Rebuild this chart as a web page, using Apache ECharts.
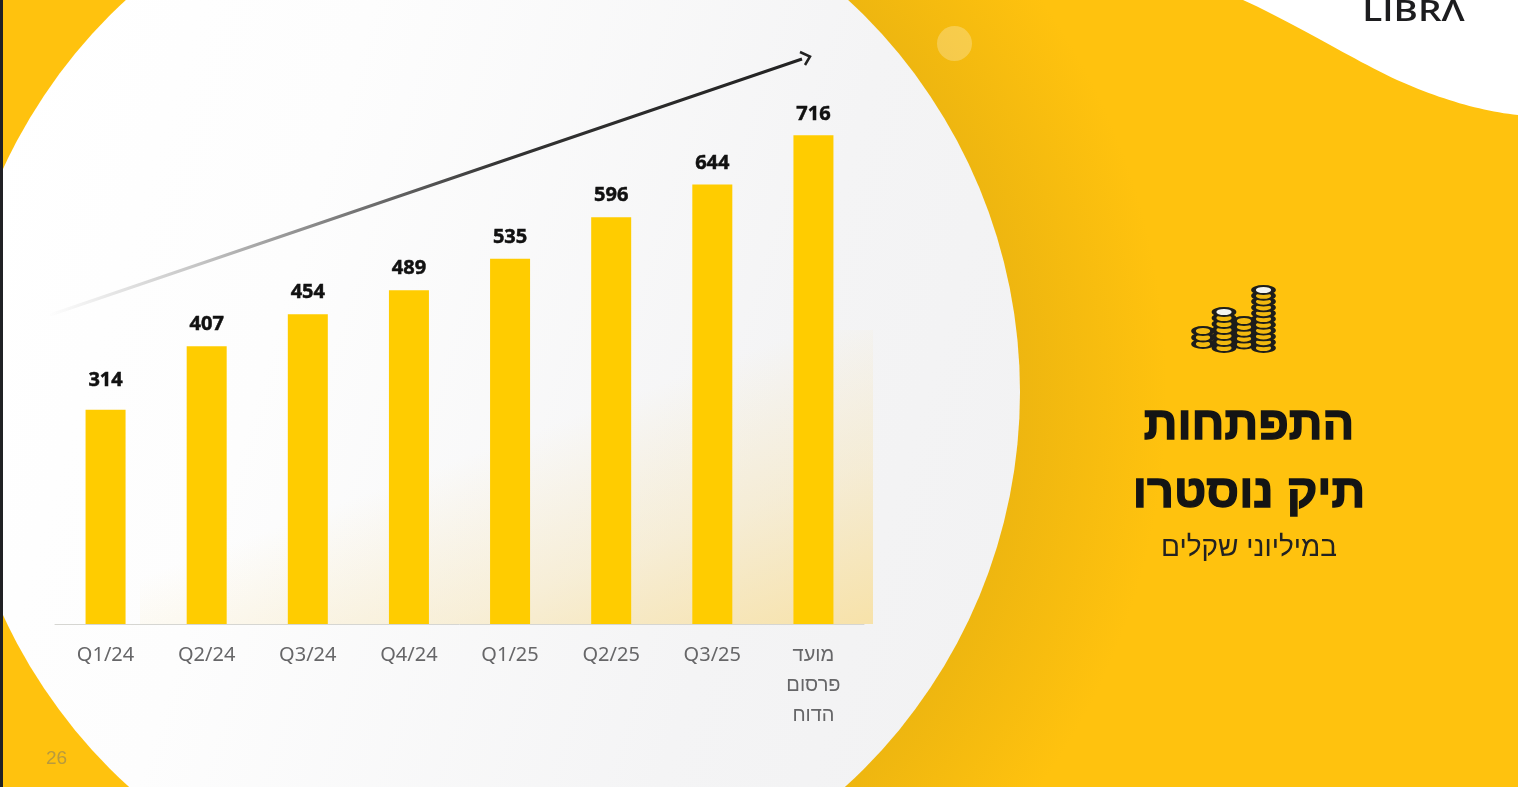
<!DOCTYPE html>
<html>
<head>
<meta charset="utf-8">
<style>html,body{margin:0;padding:0;background:#FFC20E;overflow:hidden}#c{width:1518px;height:787px}</style>
<script src="https://cdn.jsdelivr.net/npm/echarts@6/dist/echarts.min.js"></script>
</head>
<body>
<div id="c"></div>
<script>
var categories = ['Q1/24','Q2/24','Q3/24','Q4/24','Q1/25','Q2/25','Q3/25','מועד\nפרסום\nהדוח'];
var values = [314,407,454,489,535,596,644,716];
var labelGaps = [19.5,11.5,11.5,11.5,11.5,11.5,11.5,11.5];
var titleLine1 = 'התפתחות';
var titleLine2 = 'תיק נוסטרו';
var subtitle = 'במיליוני שקלים';
var logoText = 'LIBRΛ';
var pageNumber = '26';

var chart = echarts.init(document.getElementById('c'), null, {renderer:'canvas', width:1518, height:787});

var DARK = '#1d1d1b';
var HEB = '"Liberation Sans","DejaVu Sans",sans-serif';
var g = [];

function bez(p0,p1,p2,p3,out){
  for(var i=0;i<=24;i++){
    var t=i/24,u=1-t;
    out.push([u*u*u*p0[0]+3*u*u*t*p1[0]+3*u*t*t*p2[0]+t*t*t*p3[0],
              u*u*u*p0[1]+3*u*u*t*p1[1]+3*u*t*t*p2[1]+t*t*t*p3[1]]);
  }
}

// page background
g.push({type:'rect', z:-10, shape:{x:0,y:0,width:1518,height:787}, style:{fill:'#FFC20E'}, silent:true});
// soft shadow to the right of the circle
g.push({type:'rect', z:-9, shape:{x:487,y:0,width:1031,height:787}, silent:true, style:{fill:{
  type:'radial', global:true, x:487, y:392, r:680,
  colorStops:[{offset:0,color:'#ECB410'},{offset:0.78,color:'#EEB610'},{offset:1,color:'#FFC20E'}]
}}});
// top-right white corner
var corner=[];
bez([1243,0],[1300,26],[1350,58],[1397,80],corner);
bez([1397,80],[1440,99],[1480,111],[1518,115],corner);
corner.push([1518,0]);
g.push({type:'polygon', z:-8, silent:true, shape:{points:corner}, style:{fill:'#ffffff'}});
// bubble
g.push({type:'circle', z:-7, silent:true, shape:{cx:954.5,cy:43.5,r:17.5}, style:{fill:'rgba(255,255,255,0.25)'}});
// big circle
g.push({type:'circle', z:-6, silent:true, shape:{cx:487,cy:392,r:533}, style:{fill:{
  type:'linear', x:0, y:0.35, x2:1, y2:0.65,
  colorStops:[{offset:0,color:'#ffffff'},{offset:0.3,color:'#fdfdfd'},{offset:0.75,color:'#f4f4f5'},{offset:1,color:'#f2f2f3'}]
}}});
// left dark strip
g.push({type:'rect', z:-5, silent:true, shape:{x:0,y:0,width:3,height:787}, style:{fill:'#202124'}});
// page number
g.push({type:'text', z:-5, silent:true, style:{x:46,y:759,text:pageNumber,fill:'#B89A3E',font:'19px "Liberation Sans",sans-serif',verticalAlign:'middle'}});
// warm glow behind bars
g.push({type:'rect', z:-5, silent:true, shape:{x:140,y:330,width:733,height:294}, style:{fill:{
  type:'linear', global:true, x:873, y:305, x2:976, y2:582,
  colorStops:[{offset:0,color:'rgba(247,226,170,0)'},{offset:0.5,color:'rgba(247,226,170,0.42)'},{offset:1,color:'rgba(247,226,170,1)'}]
}}});
// trend arrow
g.push({type:'line', z:-4, silent:true, shape:{x1:50,y1:315,x2:802,y2:59}, style:{lineWidth:3,stroke:{
  type:'linear', x:0,y:0,x2:1,y2:0,
  colorStops:[{offset:0,color:'rgba(200,200,200,0)'},{offset:0.2,color:'#c4c4c4'},{offset:0.4,color:'#777777'},{offset:0.6,color:'#333333'},{offset:1,color:'#222222'}]
}}});
g.push({type:'polyline', z:-4, silent:true, shape:{points:[[800,52],[810,56.5],[805,65]]}, style:{fill:'none',stroke:'#222222',lineWidth:2.5}});

// coins icon: each coin is a flattened circle
function stack(cx, bottom, top, count, rx, whiteTop){
  var step=(bottom-top)/(count-1);
  for(var i=0;i<count;i++){
    var y = bottom - i*step;
    var last = i===count-1;
    g.push({type:'circle', z:-3, silent:true, shape:{cx:0,cy:0,r:1}, x:cx, y:y, scaleX:rx, scaleY:4,
      style:{fill:(last&&whiteTop)?'#f4f4f0':'#F2B90F',stroke:DARK,lineWidth:3,strokeNoScale:true}});
  }
}
stack(1203,344,331,3,9.5,false);
stack(1224,348,312,7,10,true);
stack(1263.5,348,290,11,10,true);
stack(1244,344.5,321,5,9.5,false);

// titles
g.push({type:'text', silent:true, style:{x:1249,y:426,text:titleLine1,fill:'#141414',stroke:'#141414',lineWidth:1.4,font:'bold 47px '+HEB,align:'center',verticalAlign:'middle'}});
g.push({type:'text', silent:true, style:{x:1249,y:494,text:titleLine2,fill:'#141414',stroke:'#141414',lineWidth:1.4,font:'bold 47px '+HEB,align:'center',verticalAlign:'middle'}});
g.push({type:'text', silent:true, style:{x:1249,y:548,text:subtitle,fill:'#222222',font:'28px '+HEB,align:'center',verticalAlign:'middle'}});
// logo
g.push({type:'text', silent:true, x:1413.5, y:13.5, scaleX:1.32, style:{x:0,y:0,text:logoText,fill:'#1d1d1f',font:'600 28px "Open Sans",sans-serif',align:'center',verticalAlign:'middle'}});

var barData = values.map(function(v,i){
  return {value:v, label:{distance:labelGaps[i]}};
});

chart.setOption({
  animation:false,
  backgroundColor:'transparent',
  graphic:{elements:g},
  grid:{left:55, right:654, top:78, bottom:163, containLabel:false},
  xAxis:{
    type:'category', data:categories,
    axisTick:{show:false},
    axisLine:{show:true,lineStyle:{color:'#d6d6d2',width:1}},
    axisLabel:{interval:0,color:'#666668',fontSize:20,fontFamily:'"Noto Sans","Liberation Sans",sans-serif',lineHeight:30,margin:16,verticalAlign:'top'}
  },
  yAxis:{type:'value',min:0,max:800,show:false,splitLine:{show:false}},
  series:[{
    type:'bar', data:barData, barWidth:40, z:2,
    itemStyle:{color:'#FFCC00'},
    label:{show:true,position:'top',color:'#111111',fontSize:20,fontWeight:'bold',fontFamily:'"Noto Sans",sans-serif',textBorderColor:'#111111',textBorderWidth:0.5}
  }]
});
</script>
</body>
</html>
